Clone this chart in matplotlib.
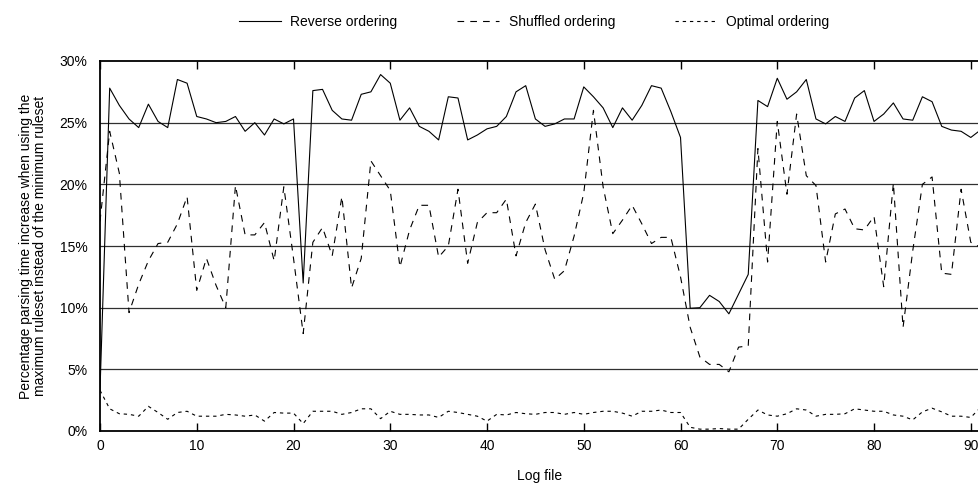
import numpy as np
import matplotlib
matplotlib.use("Agg")
import matplotlib.pyplot as plt
from matplotlib.ticker import PercentFormatter

plt.rcParams["font.family"] = ["Liberation Sans", "DejaVu Sans"]
plt.rcParams["font.size"] = 10

# =========================
# data (percent, one value per log file)
# =========================
log_files = list(range(92))

reverse_ordering = [
    3.3, 27.8, 26.4, 25.3, 24.6, 26.5, 25.1, 24.6, 28.5, 28.2,
    25.5, 25.3, 25.0, 25.1, 25.5, 24.3, 25.0, 24.0, 25.3, 24.9,
    25.3, 12.0, 27.6, 27.7, 26.0, 25.3, 25.2, 27.3, 27.5, 28.9,
    28.2, 25.2, 26.2, 24.7, 24.3, 23.6, 27.1, 27.0, 23.6, 24.0,
    24.5, 24.7, 25.5, 27.5, 28.0, 25.3, 24.7, 24.9, 25.3, 25.3,
    27.9, 27.1, 26.2, 24.6, 26.2, 25.2, 26.4, 28.0, 27.8, 25.9,
    23.8, 9.95, 10.0, 11.0, 10.5, 9.5, 11.1, 12.7, 26.8, 26.3,
    28.6, 26.9, 27.5, 28.5, 25.3, 24.9, 25.5, 25.1, 27.0, 27.6,
    25.1, 25.7, 26.6, 25.3, 25.2, 27.1, 26.7, 24.7, 24.4, 24.3,
    23.8, 24.4,
]

shuffled_ordering = [
    17.0, 24.3, 20.9, 9.6, 11.9, 13.8, 15.2, 15.3, 16.8, 19.0,
    11.4, 14.0, 11.8, 10.0, 19.9, 15.9, 15.9, 16.9, 13.8, 19.8,
    14.0, 7.9, 15.3, 16.5, 14.2, 19.0, 11.6, 14.0, 21.9, 20.7,
    19.5, 13.3, 16.3, 18.3, 18.3, 14.1, 15.0, 19.6, 13.6, 16.9,
    17.7, 17.7, 18.8, 14.2, 16.9, 18.4, 14.7, 12.3, 13.0, 15.8,
    19.3, 26.0, 19.8, 16.0, 17.1, 18.3, 16.8, 15.2, 15.7, 15.7,
    12.5, 8.4, 6.0, 5.4, 5.4, 4.8, 6.8, 6.9, 22.9, 13.7,
    25.1, 19.2, 25.7, 20.7, 19.9, 13.7, 17.6, 18.0, 16.4, 16.3,
    17.4, 11.7, 20.1, 8.4, 14.6, 20.0, 20.6, 12.8, 12.7, 19.6,
    15.3, 14.9,
]

optimal_ordering = [
    3.3, 1.8, 1.4, 1.35, 1.2, 2.0, 1.5, 0.95, 1.5, 1.6,
    1.2, 1.2, 1.2, 1.35, 1.3, 1.2, 1.3, 0.8, 1.5, 1.45,
    1.45, 0.6, 1.6, 1.6, 1.6, 1.35, 1.5, 1.8, 1.8, 1.0,
    1.6, 1.35, 1.35, 1.3, 1.3, 1.1, 1.6, 1.5, 1.35, 1.2,
    0.8, 1.35, 1.3, 1.5, 1.4, 1.35, 1.5, 1.5, 1.35, 1.5,
    1.35, 1.5, 1.6, 1.6, 1.45, 1.2, 1.6, 1.6, 1.7, 1.5,
    1.5, 0.3, 0.15, 0.15, 0.2, 0.15, 0.15, 0.95, 1.7, 1.3,
    1.2, 1.4, 1.8, 1.7, 1.2, 1.35, 1.35, 1.4, 1.8, 1.7,
    1.6, 1.6, 1.3, 1.2, 0.9, 1.55, 1.85, 1.55, 1.2, 1.2,
    1.1, 1.9,
]

x_ticks = list(range(0, 91, 10))
y_ticks = [0, 5, 10, 15, 20, 25, 30]


def main():
    fig = plt.figure(figsize=(9.79, 4.84), dpi=100)
    ax = fig.add_axes([100 / 979, 1 - 431 / 484, 1 - 100 / 979, (431 - 61) / 484])

    # horizontal grid lines
    for y in y_ticks[1:-1]:
        ax.axhline(y, color="#303030", linewidth=0.9, zorder=1)

    ax.plot(log_files, reverse_ordering, color="black", linewidth=0.8,
            linestyle="-", label="Reverse ordering", zorder=3)
    ax.plot(log_files, shuffled_ordering, color="black", linewidth=0.8,
            linestyle=(0, (6, 5.5)), label="Shuffled ordering", zorder=3)
    ax.plot(log_files, optimal_ordering, color="black", linewidth=0.8,
            linestyle=(0, (3, 3.5)), label="Optimal ordering", zorder=3)

    ax.set_xlim(0, 90.85)
    ax.set_ylim(0, 30)
    ax.set_xticks(x_ticks)
    ax.set_yticks(y_ticks)
    ax.yaxis.set_major_formatter(PercentFormatter(xmax=100, decimals=0))

    ax.tick_params(axis="x", direction="in", length=6, width=1, top=True,
                   bottom=True, pad=6, labelsize=10)
    ax.tick_params(axis="y", length=0, pad=9, labelsize=10)

    for side in ["left", "top", "bottom"]:
        ax.spines[side].set_linewidth(1.3)
        ax.spines[side].set_color("black")
    ax.spines["right"].set_visible(False)

    ax.set_xlabel("Log file", fontsize=10, va="top")
    ax.xaxis.set_label_coords(0.5, -0.103)
    ax.set_ylabel("Percentage parsing time increase when using the\n"
                  "maximum ruleset instead of the minimum ruleset",
                  fontsize=10, linespacing=1.05)
    ax.yaxis.set_label_coords(-0.06, 0.5)

    fig.legend(loc="center", bbox_to_anchor=(534 / 979, 1 - 22 / 484),
               ncol=3, frameon=False, fontsize=10, handlelength=3.0,
               handletextpad=0.7, columnspacing=4.3)

    fig.savefig("out.png", dpi=100)
    plt.close(fig)


if __name__ == "__main__":
    main()
